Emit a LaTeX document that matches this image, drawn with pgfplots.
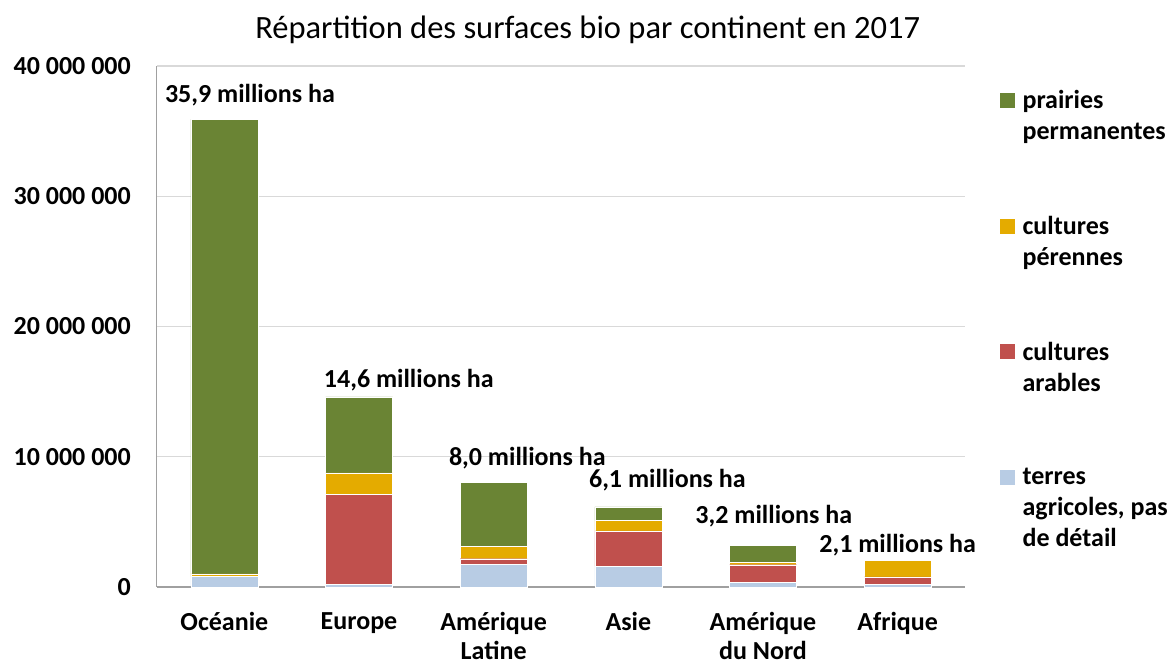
\documentclass[border=0pt]{standalone}
\usepackage{pgfplots}
\pgfplotsset{compat=1.18}
\usepackage{fontspec}
\setmainfont{Carlito}
\definecolor{cgreen}{RGB}{106,132,52}
\definecolor{corange}{RGB}{228,171,0}
\definecolor{cred}{RGB}{192,80,77}
\definecolor{cblue}{RGB}{184,204,228}
\definecolor{cgrid}{RGB}{217,217,217}
\definecolor{caxis}{RGB}{160,160,160}
\begin{document}
\begin{tikzpicture}[font=\fontsize{26}{30}\selectfont\bfseries]
\useasboundingbox (-157pt,-78pt) rectangle (1015pt,587pt);
\begin{axis}[
  scale only axis, width=808pt, height=521pt,
  xmin=-0.5, xmax=5.5, ymin=0, ymax=40000000,
  ybar stacked, bar width=67pt,
  axis x line*=bottom, axis y line*=left,
  x axis line style={draw=caxis, line width=1.5pt, -},
  y axis line style={draw=caxis, line width=1pt, -},
  major tick length=0pt,
  scaled y ticks=false,
  xtick={0,1,2,3,4,5},
  xticklabels={Océanie,Europe,{Amérique\\Latine},Asie,{Amérique\\du Nord},Afrique},
  xticklabel style={align=center, inner sep=0pt, yshift=-25pt, font=\fontsize{26}{29}\selectfont\bfseries},
  ytick={0,10000000,20000000,30000000,40000000},
  yticklabels={0,10 000 000,20 000 000,30 000 000,40 000 000},
  yticklabel style={inner sep=0pt, xshift=-26pt, font=\fontsize{26}{30}\selectfont\bfseries},
  ymajorgrids, grid style={draw=cgrid, line width=1.2pt},
  title={Répartition des surfaces bio par continent en 2017},
  title style={at={(axis description cs:0.533,1.058)}, anchor=center, font=\fontsize{32.5}{36}\selectfont\mdseries},
  reverse legend,
  legend cell align=left,
  legend style={draw=none, fill=none, at={(axis description cs:1.0396,0.957)}, anchor=north west,
    row sep=75pt, nodes={align=left, inner sep=0pt, font=\fontsize{26}{31}\selectfont\bfseries},
    /tikz/every odd column/.append style={column sep=8pt}},
  clip=false,
]
\addplot[fill=cblue, draw=white, line width=0.4pt,
  legend image code/.code={\fill[cblue] (0pt,24pt) rectangle (14pt,38pt);}] coordinates {(0,800000) (1,230000) (2,1750000) (3,1600000) (4,380000) (5,200000)};
\addlegendentry{terres\\agricoles, pas\\de détail}
\addplot[fill=cred, draw=white, line width=0.4pt,
  legend image code/.code={\fill[cred] (0pt,9pt) rectangle (14pt,23pt);}] coordinates {(0,0) (1,6870000) (2,420000) (3,2700000) (4,1330000) (5,570000)};
\addlegendentry{cultures\\arables}
\addplot[fill=corange, draw=white, line width=0.4pt,
  legend image code/.code={\fill[corange] (0pt,9pt) rectangle (14pt,23pt);}] coordinates {(0,200000) (1,1660000) (2,950000) (3,800000) (4,200000) (5,1260000)};
\addlegendentry{cultures\\pérennes}
\addplot[fill=cgreen, draw=white, line width=0.4pt,
  legend image code/.code={\fill[cgreen] (0pt,9pt) rectangle (14pt,23pt);}] coordinates {(0,34900000) (1,5830000) (2,4900000) (3,1050000) (4,1300000) (5,100000)};
\addlegendentry{prairies\\permanentes}
\node[inner sep=0pt] at (axis cs:0.19,37760000) {35,9 millions ha};
\node[inner sep=0pt] at (axis cs:1.37,15890000) {14,6 millions ha};
\node[inner sep=0pt] at (axis cs:2.25,9900000) {8,0 millions ha};
\node[inner sep=0pt] at (axis cs:3.29,8210000) {6,1 millions ha};
\node[inner sep=0pt] at (axis cs:4.08,5450000) {3,2 millions ha};
\node[inner sep=0pt] at (axis cs:5.0,3220000) {2,1 millions ha};
\end{axis}
\end{tikzpicture}
\end{document}
